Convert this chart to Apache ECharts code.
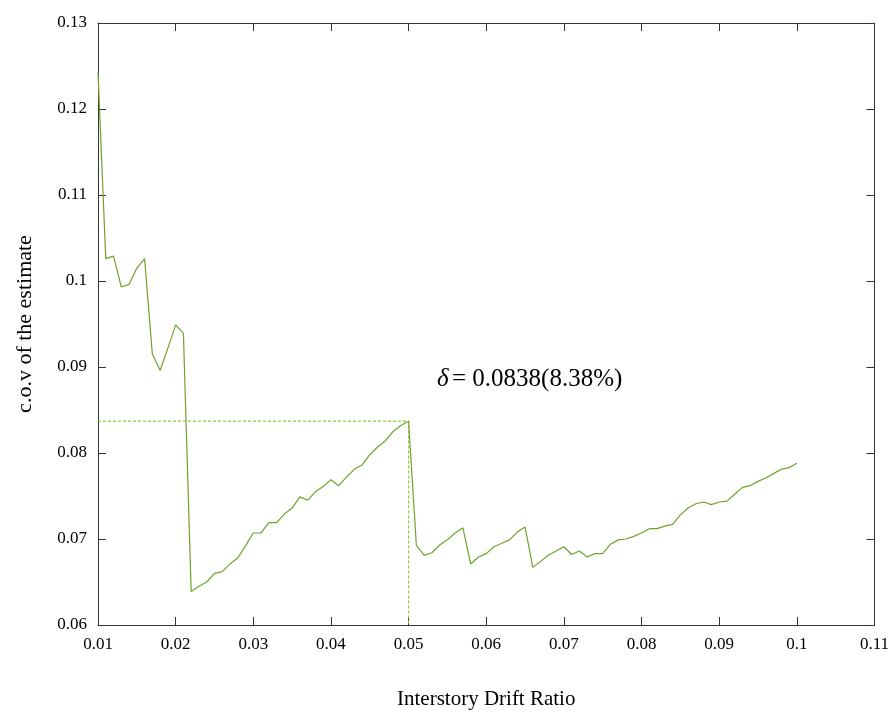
<!DOCTYPE html>
<html><head><meta charset="utf-8">
<script src="https://cdn.jsdelivr.net/npm/echarts@6/dist/echarts.min.js"></script>
<style>html,body{margin:0;padding:0;background:#fff;overflow:hidden}#c{width:892px;height:715px}</style>
</head><body><div id="c"></div>
<script>
const driftRatio = [0.010,0.011,0.012,0.013,0.014,0.015,0.016,0.017,0.018,0.019,0.020,0.021,0.022,0.023,0.024,0.025,0.026,0.027,0.028,0.029,0.030,0.031,0.032,0.033,0.034,0.035,0.036,0.037,0.038,0.039,0.040,0.041,0.042,0.043,0.044,0.045,0.046,0.047,0.048,0.049,0.050,0.051,0.052,0.053,0.054,0.055,0.056,0.057,0.058,0.059,0.060,0.061,0.062,0.063,0.064,0.065,0.066,0.067,0.068,0.069,0.070,0.071,0.072,0.073,0.074,0.075,0.076,0.077,0.078,0.079,0.080,0.081,0.082,0.083,0.084,0.085,0.086,0.087,0.088,0.089,0.090,0.091,0.092,0.093,0.094,0.095,0.096,0.097,0.098,0.099,0.100];
const covEstimate = [0.1243,0.1026,0.1029,0.0993,0.0996,0.1015,0.1026,0.0915,0.0896,0.0922,0.0949,0.0939,0.0639,0.0645,0.0650,0.0660,0.0662,0.0671,0.0678,0.0692,0.0707,0.0707,0.0719,0.0719,0.0729,0.0736,0.0749,0.0745,0.0755,0.0761,0.0769,0.0762,0.0772,0.0781,0.0786,0.0798,0.0807,0.0814,0.0825,0.0832,0.0837,0.0693,0.0681,0.0684,0.0693,0.0699,0.0707,0.0713,0.0671,0.0679,0.0683,0.0691,0.0695,0.0699,0.0708,0.0714,0.0667,0.0674,0.0681,0.0686,0.0691,0.0682,0.0686,0.0679,0.0683,0.0683,0.0694,0.0699,0.0700,0.0703,0.0707,0.0712,0.0712,0.0715,0.0717,0.0728,0.0736,0.0741,0.0743,0.0740,0.0743,0.0744,0.0752,0.0760,0.0762,0.0767,0.0771,0.0776,0.0781,0.0783,0.0788];
const refX = [0.01, 0.05, 0.05];
const refY = [0.0837, 0.0837, 0.06];
const annotation = '0.0838(8.38%)';
const xTitle = 'Interstory Drift Ratio';
const yTitle = 'c.o.v of the estimate';

const font = '"Liberation Serif", "Times New Roman", serif';
const axisCol = '#333';
const chart = echarts.init(document.getElementById('c'));
const fmt = v => String(+v.toFixed(2));
const baseAxis = {
  type: 'value',
  axisLine: { show: true, onZero: false, lineStyle: { color: axisCol, width: 1 } },
  axisTick: { show: true, inside: true, length: 8, lineStyle: { color: axisCol } },
  splitLine: { show: false }
};
chart.setOption({
  animation: false,
  backgroundColor: '#fff',
  grid: { left: 98, right: 9, top: 23, bottom: 88 },
  xAxis: [
    Object.assign({}, baseAxis, { min: 0.01, max: 0.11, interval: 0.01, position: 'bottom',
      name: xTitle, nameLocation: 'middle', nameGap: 64,
      nameTextStyle: { fontFamily: font, fontSize: 21, color: '#000' },
      axisLabel: { formatter: fmt, fontFamily: font, fontSize: 17, color: '#000', margin: 11 } }),
    Object.assign({}, baseAxis, { min: 0.01, max: 0.11, interval: 0.01, position: 'top',
      axisLabel: { show: false } })
  ],
  yAxis: [
    Object.assign({}, baseAxis, { min: 0.06, max: 0.13, interval: 0.01, position: 'left',
      name: yTitle, nameLocation: 'middle', nameGap: 62, nameRotate: 90,
      nameTextStyle: { fontFamily: font, fontSize: 22, color: '#000' },
      axisLabel: { formatter: fmt, fontFamily: font, fontSize: 17, color: '#000', margin: 11 } }),
    Object.assign({}, baseAxis, { min: 0.06, max: 0.13, interval: 0.01, position: 'right',
      axisLabel: { show: false } })
  ],
  series: [
    { type: 'line', xAxisIndex: 0, yAxisIndex: 0, symbol: 'none',
      data: refX.map((x, i) => [x, refY[i]]),
      lineStyle: { color: '#86cc3a', width: 1.2, type: [3, 2] }, z: 2 },
    { type: 'line', xAxisIndex: 0, yAxisIndex: 0, symbol: 'none',
      data: driftRatio.map((x, i) => [x, covEstimate[i]]),
      lineStyle: { color: '#6ea42c', width: 1.2 }, z: 3 }
  ],
  graphic: [{
    type: 'text', left: 437, top: 367,
    style: {
      text: '{d|δ} {n|= ' + annotation + '}',
      rich: {
        d: { fontFamily: font, fontStyle: 'italic', fontSize: 25, fill: '#000' },
        n: { fontFamily: font, fontSize: 25, fill: '#000' }
      }
    }
  }]
});
</script></body></html>
